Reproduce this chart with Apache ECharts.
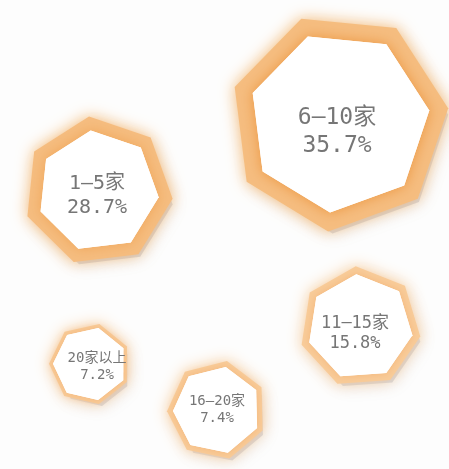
<!DOCTYPE html>
<html lang="zh">
<head>
    <meta charset="UTF-8">
    <title>门店数量分布</title>
    <script src="https://cdn.jsdelivr.net/npm/echarts@6/dist/echarts.min.js"></script>
</head>
<body style="margin:0;background:#fdfdfd;">
<div id="main" style="width:449px;height:469px;"></div>

<script type="text/javascript">

    // 数据
    var categories = ['1–5家', '6–10家', '11–15家', '16–20家', '20家以上'];
    var shares = [28.7, 35.7, 15.8, 7.4, 7.2];

    // 版式：每个七边形的中心、外径、内径、旋转角、字号、文字偏移
    var posX = [98, 339, 360, 217, 90];
    var posY = [191, 122, 327, 410, 364];
    var outerR = [81, 116, 67, 56, 47];
    var innerR = [61, 91, 53, 44, 37];
    var turn = [-0.12, -0.35, -0.07, 0.2, 0.23];
    var fontSize = [20, 23, 17, 14, 14];
    var textDx = [-1, -2, -5, 0, 7];
    var textDy = [5, 10, 7, 0, 3];

    var seriesData = [];
    for (var i = 0; i < categories.length; i++) {
        seriesData.push([posX[i], posY[i], shares[i], i]);
    }

    var heptagon = function (cx, cy, r, rot) {
        var pts = [];
        for (var k = 0; k < 7; k++) {
            var a = rot + k * Math.PI * 2 / 7 - Math.PI / 2;
            pts.push([cx + r * Math.cos(a), cy + r * Math.sin(a)]);
        }
        return pts;
    };

    var renderItem = function (params, api) {
        var idx = api.value(3);
        var c = api.coord([api.value(0), api.value(1)]);
        var ro = api.size([outerR[idx], 0])[0];
        var ri = api.size([innerR[idx], 0])[0];
        var rot = turn[idx];
        var fs = fontSize[idx];
        var big = idx <= 1;
        return {
            type: 'group',
            children: [
                {
                    type: 'polygon',
                    shape: {points: heptagon(c[0] + 4, c[1] + 6, ro - 10, rot)},
                    style: {
                        fill: 'rgba(130,140,170,0.3)',
                        shadowBlur: 18,
                        shadowColor: 'rgba(120,135,165,0.55)'
                    }
                },
                {
                    type: 'polygon',
                    shape: {points: heptagon(c[0], c[1], ro - 6, rot)},
                    style: {
                        fill: big ? '#f5bd80' : '#f8cc9a',
                        shadowBlur: 16,
                        shadowColor: big ? 'rgba(245,185,115,1)' : 'rgba(248,203,152,1)'
                    }
                },
                {
                    type: 'polygon',
                    shape: {points: heptagon(c[0], c[1], ri, rot)},
                    style: {
                        fill: '#ffffff',
                        shadowBlur: big ? 14 : 9,
                        shadowColor: idx === 1 ? '#ec963f' : (big ? '#f0a557' : '#f4b578')
                    }
                },
                {
                    type: 'polygon',
                    shape: {points: heptagon(c[0], c[1], ri, rot)},
                    style: {fill: '#ffffff'}
                },
                {
                    type: 'text',
                    x: c[0] + textDx[idx],
                    y: c[1] + textDy[idx],
                    style: {
                        text: categories[idx] + '\n' + api.value(2).toFixed(1) + '%',
                        fill: '#767676',
                        font: fs + 'px "DejaVu Sans Mono", "Noto Sans CJK SC"',
                        lineHeight: Math.round(fs * 1.2),
                        align: 'center',
                        verticalAlign: 'middle'
                    }
                }
            ]
        };
    };

    var myChart = echarts.init(document.getElementById('main'));

    var option = {
        backgroundColor: '#fdfdfd',
        animation: false,
        grid: {left: 0, right: 0, top: 0, bottom: 0},
        xAxis: {type: 'value', min: 0, max: 449, show: false},
        yAxis: {type: 'value', min: 0, max: 469, inverse: true, show: false},
        series: [
            {
                type: 'custom',
                renderItem: renderItem,
                data: seriesData
            }
        ]
    };

    myChart.setOption(option);

</script>
</body>
</html>
